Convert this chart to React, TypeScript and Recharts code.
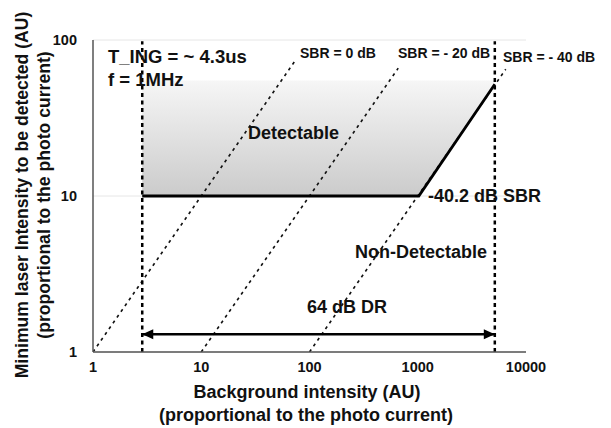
import { ComposedChart, Line, Area, XAxis, YAxis, CartesianGrid } from "recharts";

const xTicks = [1, 10, 100, 1000, 10000];
const yTicks = [1, 10, 100];

// SBR guide lines (y = x * 10^(SBR/20))
const sbr0 = [{ x: 1, y: 1 }, { x: 75, y: 75 }];
const sbr20 = [{ x: 10, y: 1 }, { x: 660, y: 66 }];
const sbr40 = [{ x: 100, y: 1 }, { x: 6500, y: 65 }];

// DR bounds
const lowBound = [{ x: 2.85, y: 1 }, { x: 2.85, y: 98 }];
const highBound = [{ x: 5150, y: 1 }, { x: 5150, y: 98 }];

// minimum detectable intensity
const minLine = [{ x: 2.85, y: 10 }, { x: 1023, y: 10 }, { x: 5150, y: 52 }];

// detectable region
const detectRegion = [
  { x: 2.85, range: [10, 55] },
  { x: 1023, range: [10, 55] },
  { x: 5150, range: [52, 55] },
];

const drArrow = [{ x: 2.85, y: 1.3 }, { x: 5150, y: 1.3 }];

const FONT = "'Liberation Sans', Arial, sans-serif";

function ArrowHead(props: any) {
  const { cx, cy, index } = props;
  if (cx == null || cy == null) return null;
  const len = 11;
  const half = 5;
  const pts =
    index === 0
      ? `${cx},${cy} ${cx + len},${cy - half} ${cx + len},${cy + half}`
      : `${cx},${cy} ${cx - len},${cy - half} ${cx - len},${cy + half}`;
  return <polygon key={`arrow-${index}`} points={pts} fill="#000" />;
}

export default function App() {
  const textStyle = { fontFamily: FONT, fontWeight: 700, fill: "#111" };
  const tickStyle = { fontSize: 14.5, fontFamily: FONT, fontWeight: 700, fill: "#111" };
  return (
    <div style={{ position: "absolute", left: 0, top: 0, width: 611, height: 428, background: "#fff" }}>
      <ComposedChart width={611} height={428} margin={{ top: 40, right: 85, left: 0, bottom: 0 }}>
        <defs>
          <linearGradient id="detectFill" x1="0" y1="0" x2="0" y2="1">
            <stop offset="0%" stopColor="#f6f6f6" />
            <stop offset="100%" stopColor="#cbcbcb" />
          </linearGradient>
        </defs>
        <CartesianGrid vertical={false} stroke="#e6e6e6" strokeWidth={1} />
        <XAxis
          dataKey="x"
          type="number"
          scale="log"
          domain={[1, 10000]}
          ticks={xTicks}
          allowDataOverflow
          height={76}
          tickSize={0}
          tickMargin={10}
          axisLine={{ stroke: "#555", strokeWidth: 1.5 }}
          tickLine={false}
          tick={tickStyle}
        />
        <YAxis
          dataKey="y"
          type="number"
          scale="log"
          domain={[1, 100]}
          ticks={yTicks}
          allowDataOverflow
          width={93}
          tickSize={0}
          tickMargin={16}
          axisLine={{ stroke: "#555", strokeWidth: 1.5 }}
          tickLine={false}
          tick={tickStyle}
        />
        <Area
          data={detectRegion}
          dataKey="range"
          type="linear"
          stroke="none"
          fill="url(#detectFill)"
          fillOpacity={1}
          isAnimationActive={false}
        />
        <Line data={sbr0} dataKey="y" type="linear" stroke="#111" strokeWidth={1.6} strokeDasharray="3 4" dot={false} isAnimationActive={false} />
        <Line data={sbr20} dataKey="y" type="linear" stroke="#111" strokeWidth={1.6} strokeDasharray="3 4" dot={false} isAnimationActive={false} />
        <Line data={sbr40} dataKey="y" type="linear" stroke="#111" strokeWidth={1.6} strokeDasharray="3 4" dot={false} isAnimationActive={false} />
        <Line data={lowBound} dataKey="y" type="linear" stroke="#000" strokeWidth={2.5} strokeDasharray="4 3.5" dot={false} isAnimationActive={false} />
        <Line data={highBound} dataKey="y" type="linear" stroke="#000" strokeWidth={2.5} strokeDasharray="4 3.5" dot={false} isAnimationActive={false} />
        <Line data={minLine} dataKey="y" type="linear" stroke="#000" strokeWidth={2.8} dot={false} isAnimationActive={false} />
        <Line data={drArrow} dataKey="y" type="linear" stroke="#000" strokeWidth={2.5} dot={<ArrowHead />} isAnimationActive={false} />
      </ComposedChart>

      <svg width={611} height={428} style={{ position: "absolute", left: 0, top: 0, pointerEvents: "none" }}>
        <text x={108} y={63} fontSize={18.5} style={textStyle}>T_ING = ~ 4.3us</text>
        <text x={108} y={86} fontSize={18.5} style={textStyle}>f = 1MHz</text>
        <text x={300} y={58} fontSize={14} style={textStyle}>SBR = 0 dB</text>
        <text x={398} y={58} fontSize={14} style={textStyle}>SBR = - 20 dB</text>
        <text x={503} y={62} fontSize={14} style={textStyle}>SBR = - 40 dB</text>
        <text x={248} y={139} fontSize={18} style={textStyle}>Detectable</text>
        <text x={428} y={202} fontSize={18} style={textStyle}>-40.2 dB SBR</text>
        <text x={355} y={258} fontSize={18} style={textStyle}>Non-Detectable</text>
        <text x={307} y={313} fontSize={18} style={textStyle}>64 dB DR</text>
        <text x={307} y={398} fontSize={18} textAnchor="middle" style={textStyle}>Background intensity (AU)</text>
        <text x={306} y={421} fontSize={18} textAnchor="middle" style={textStyle}>(proportional to the photo current)</text>
        <text x={28} y={195} fontSize={17.6} textAnchor="middle" transform="rotate(-90 28 195)" style={textStyle}>
          Minimum laser Intensity to be detected (AU)
        </text>
        <text x={50} y={195} fontSize={17.6} textAnchor="middle" transform="rotate(-90 50 195)" style={textStyle}>
          (proportional to the photo current)
        </text>
      </svg>
    </div>
  );
}
